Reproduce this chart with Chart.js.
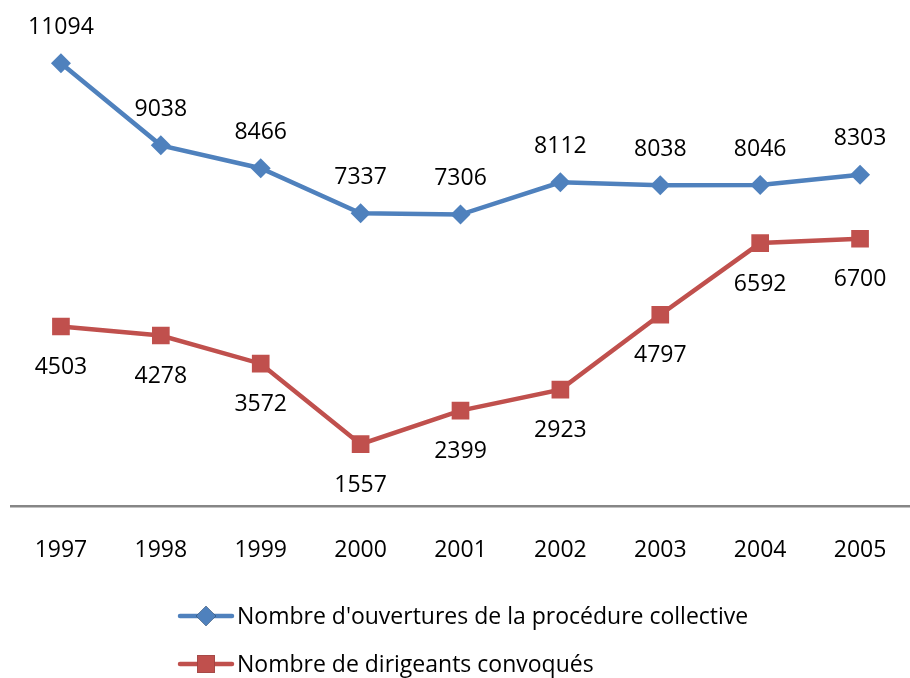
<!DOCTYPE html>
<html>
<head>
<meta charset="utf-8">
<script src="https://cdn.jsdelivr.net/npm/chart.js@4"></script>
<style>
html,body{margin:0;padding:0;background:#fff;}
#wrap{width:910px;height:678px;position:relative;}
</style>
</head>
<body>
<div id="wrap"><canvas id="c" width="910" height="678"></canvas></div>
<script>
const years = ['1997','1998','1999','2000','2001','2002','2003','2004','2005'];
const ouvertures = [11094, 9038, 8466, 7337, 7306, 8112, 8038, 8046, 8303];
const dirigeants = [4503, 4278, 3572, 1557, 2399, 2923, 4797, 6592, 6700];
const seriesNames = ["Nombre d'ouvertures de la procédure collective", "Nombre de dirigeants convoqués"];

const FONT = "'Open Sans', sans-serif";
const FS = 23;
const BLUE = '#4F81BD', RED = '#C0504D';

const labelPlugin = {
  id: 'valueLabels',
  afterDatasetsDraw(chart) {
    const ctx = chart.ctx;
    ctx.save();
    ctx.font = FS + 'px ' + FONT;
    ctx.fillStyle = '#000';
    ctx.textAlign = 'center';
    ctx.textBaseline = 'middle';
    chart.data.datasets.forEach((ds, i) => {
      const meta = chart.getDatasetMeta(i);
      meta.data.forEach((pt, j) => {
        const dy = i === 0 ? -36 : 41;
        ctx.fillText(String(ds.data[j]), pt.x, pt.y + dy);
      });
    });
    ctx.restore();
  }
};

const legendPlugin = {
  id: 'customLegend',
  afterDraw(chart) {
    const ctx = chart.ctx;
    ctx.save();
    const rows = [616, 664];
    chart.data.datasets.forEach((ds, i) => {
      const y = rows[i];
      ctx.strokeStyle = ds.borderColor;
      ctx.lineWidth = 4.5;
      ctx.lineCap = 'round';
      ctx.beginPath();
      ctx.moveTo(180, y);
      ctx.lineTo(232, y);
      ctx.stroke();
      Chart.helpers.drawPoint(ctx, {pointStyle: ds.pointStyle, radius: ds.pointRadius, borderWidth: 0, rotation: 0}, 206, y);
      ctx.fillStyle = ds.backgroundColor;
      ctx.fill();
      ctx.fillStyle = '#000';
      ctx.font = FS + 'px ' + FONT;
      ctx.textAlign = 'left';
      ctx.textBaseline = 'middle';
      ctx.fillText(ds.label, 237, y + 1);
    });
    ctx.restore();
  }
};

new Chart(document.getElementById('c'), {
  type: 'line',
  data: {
    labels: years,
    datasets: [
      {label: seriesNames[0], data: ouvertures, borderColor: BLUE, backgroundColor: BLUE,
       borderWidth: 4.5, pointStyle: 'rectRot', pointRadius: 10, pointBorderWidth: 0,
       pointBackgroundColor: BLUE, tension: 0},
      {label: seriesNames[1], data: dirigeants, borderColor: RED, backgroundColor: RED,
       borderWidth: 4.5, pointStyle: 'rect', pointRadius: 12.5, pointBorderWidth: 0,
       pointBackgroundColor: RED, tension: 0}
    ]
  },
  options: {
    responsive: false,
    animation: false,
    devicePixelRatio: 1,
    layout: {autoPadding: false, padding: {left: 11, right: 0, top: 27, bottom: 84}},
    plugins: {legend: {display: false}, tooltip: {enabled: false}},
    scales: {
      x: {
        offset: true,
        grid: {display: false, drawTicks: false},
        border: {display: true, color: '#868686', width: 2.5},
        ticks: {color: '#000', font: {family: FONT, size: FS}, padding: 30, maxRotation: 0},
        afterFit(scale) { scale.paddingLeft = 0; scale.paddingRight = 0; }
      },
      y: {
        display: false,
        min: 0, max: 12000
      }
    }
  },
  plugins: [labelPlugin, legendPlugin]
});
</script>
</body>
</html>
